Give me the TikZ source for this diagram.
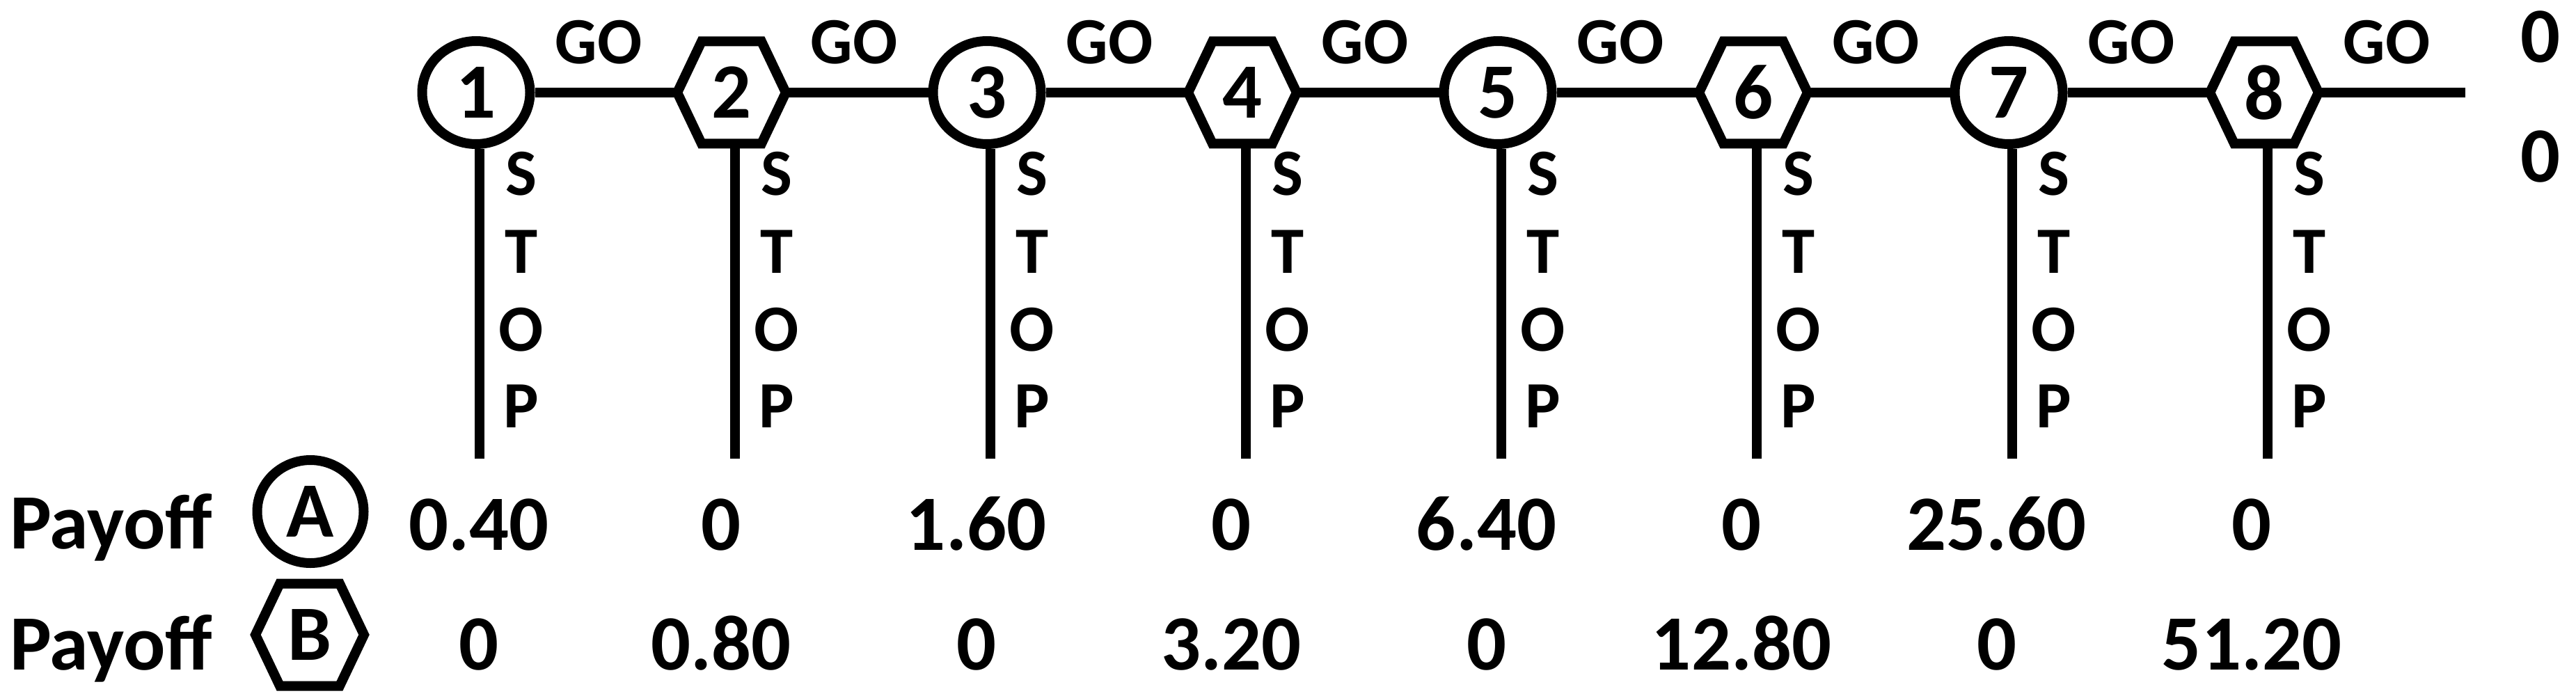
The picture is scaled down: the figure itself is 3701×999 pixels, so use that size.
\documentclass[tikz,border=0pt]{standalone}
\usepackage{fontspec}
\setmainfont{Carlito}
\usetikzlibrary{shapes.geometric}
\newcommand\hexoutline[1]{%
  \draw[edge] ([shift={(-78,0)}]#1.center) -- ([shift={(-43,-73.5)}]#1.center)
    -- ([shift={(43,-73.5)}]#1.center) -- ([shift={(78,0)}]#1.center)
    -- ([shift={(43,73.5)}]#1.center) -- ([shift={(-43,73.5)}]#1.center) -- cycle;}
\begin{document}
\begin{tikzpicture}[x=0.2pt,y=-0.2pt,
  edge/.style={line width=2.8pt, line join=miter},
  bigfont/.style={font=\fontsize{22.5}{24}\selectfont\bfseries},
  smallfont/.style={font=\fontsize{19}{20}\selectfont\bfseries},
  circnode/.style={ellipse, draw, edge, minimum width=31pt, minimum height=29.6pt, inner sep=0pt, bigfont},
  hexnode/.style={ellipse, minimum width=31.2pt, minimum height=29.4pt, inner sep=0pt, bigfont},
  golabel/.style={smallfont, anchor=base, inner sep=0pt},
  stoplabel/.style={smallfont, anchor=base, inner sep=0pt},
  payval/.style={bigfont, anchor=base, inner sep=0pt}]
\useasboundingbox (0,0) rectangle (3701,999);
% decision nodes
\node[circnode] (n1) at (684,133) {1};
\node[hexnode]  (n2) at (1051,133) {2};
\node[circnode] (n3) at (1418,133) {3};
\node[hexnode]  (n4) at (1785,133) {4};
\node[circnode] (n5) at (2152,133) {5};
\node[hexnode]  (n6) at (2519,133) {6};
\node[circnode] (n7) at (2886,133) {7};
\node[hexnode]  (n8) at (3253,133) {8};
\foreach \h in {n2,n4,n6,n8} {\hexoutline{\h}}
% GO connectors
\coordinate (goend) at (3542,133);
\draw[edge] (n1) -- (n2);
\draw[edge] (n2) -- (n3);
\draw[edge] (n3) -- (n4);
\draw[edge] (n4) -- (n5);
\draw[edge] (n5) -- (n6);
\draw[edge] (n6) -- (n7);
\draw[edge] (n7) -- (n8);
\draw[edge] (n8) -- (goend);
% GO labels
\foreach \i in {1,...,8} {
  \node[golabel] (go\i) at ({860+367*(\i-1)},92) {GO};
}
% STOP branches
\foreach \i in {1,...,8} {
  \pgfmathsetmacro\xx{684+367*(\i-1)}
  \coordinate (s\i) at (\xx+5,659);
  \draw[edge] (n\i.south -| s\i) -- (s\i);
  \node[stoplabel] (sa\i) at (\xx+65,280) {S};
  \node[stoplabel] (sb\i) at (\xx+65,392) {T};
  \node[stoplabel] (sc\i) at (\xx+65,504) {O};
  \node[stoplabel] (sd\i) at (\xx+65,614) {P};
}
% final payoffs
\node[payval] (z1) at (3650,90) {0};
\node[payval] (z2) at (3650,262) {0};
% payoff rows
\node[bigfont, anchor=base west, inner sep=0pt] (pa) at (13,788) {Payoff};
\node[bigfont, anchor=base west, inner sep=0pt] (pb) at (13,962) {Payoff};
\node[circnode, minimum width=30.6pt, minimum height=29.6pt] (la) at (446,735) {A};
\node[hexnode] (lb) at (445,912) {B};
\hexoutline{lb}
\foreach \v [count=\i] in {0.40,0,1.60,0,6.40,0,25.60,0} {
  \pgfmathsetmacro\xx{\i==1 ? 688 : 1036+366.5*(\i-2)}
  \node[payval] (pa\i) at (\xx,790) {\v};
}
\foreach \v [count=\i] in {0,0.80,0,3.20,0,12.80,0,51.20} {
  \pgfmathsetmacro\xx{\i==1 ? 688 : 1036+366.5*(\i-2)}
  \node[payval] (pb\i) at (\xx,962) {\v};
}
\end{tikzpicture}
\end{document}
